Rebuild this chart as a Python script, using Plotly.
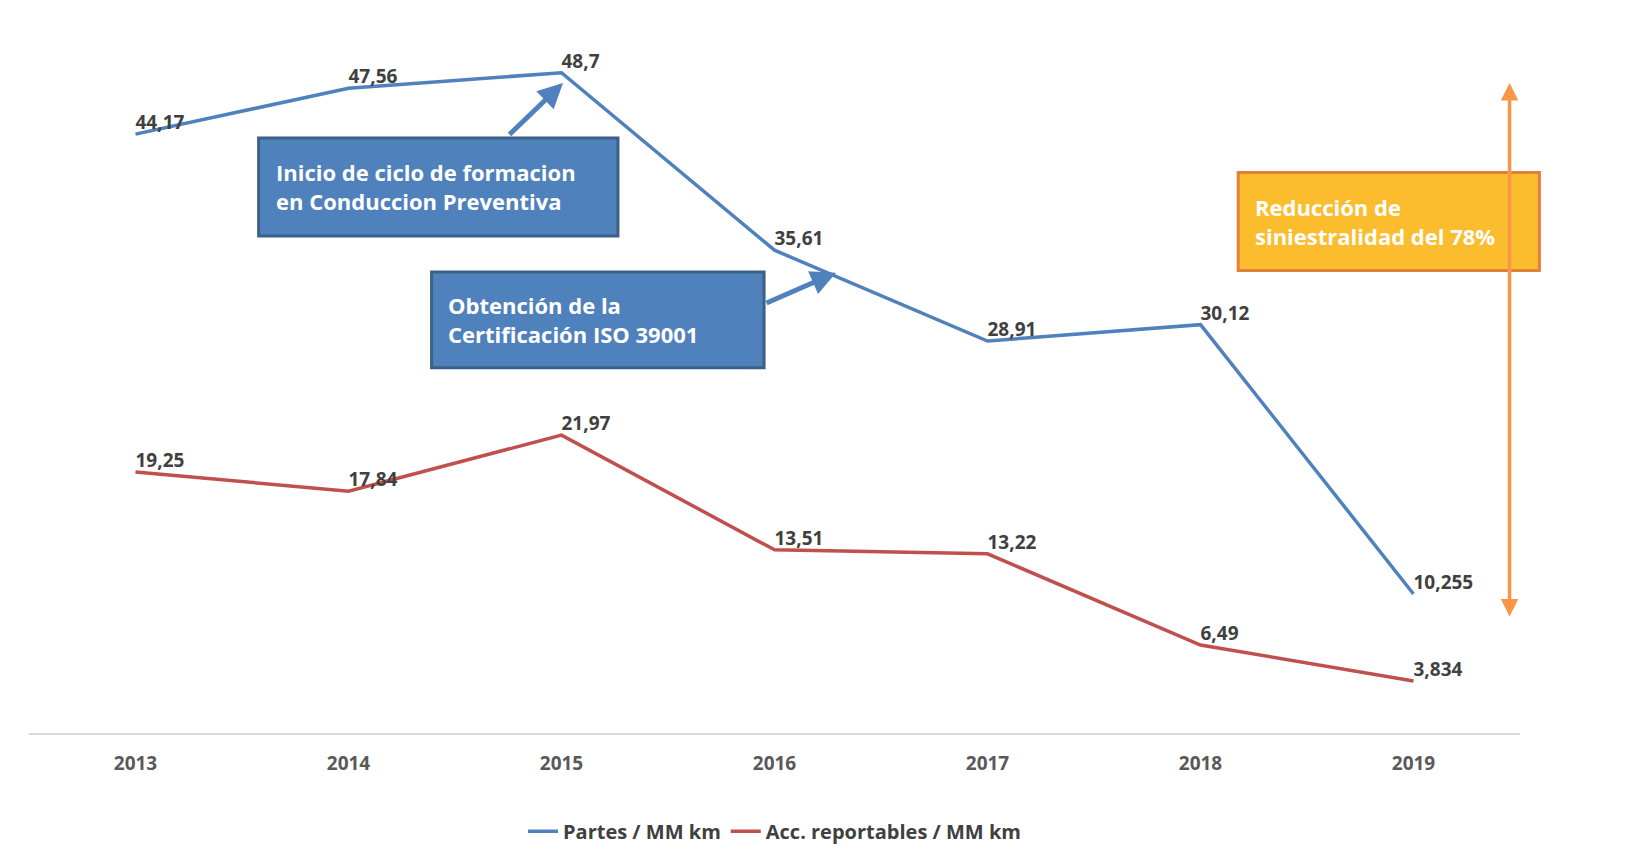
import plotly.graph_objects as go

years = ["2013", "2014", "2015", "2016", "2017", "2018", "2019"]
partes = [44.17, 47.56, 48.7, 35.61, 28.91, 30.12, 10.255]
acc = [19.25, 17.84, 21.97, 13.51, 13.22, 6.49, 3.834]
partes_lbl = ["44,17", "47,56", "48,7", "35,61", "28,91", "30,12", "10,255"]
acc_lbl = ["19,25", "17,84", "21,97", "13,51", "13,22", "6,49", "3,834"]

FONT = "Open Sans"
lbl_font = dict(family=FONT, size=19, color="#404040")

fig = go.Figure()
fig.add_trace(go.Scatter(x=years, y=partes, mode="lines+text", name="<b>Partes / MM km</b>",
                         line=dict(color="#4f81bd", width=3.5),
                         text=partes_lbl, textposition="top right", textfont=lbl_font,
                         texttemplate="<b>%{text}</b>", cliponaxis=False))
fig.add_trace(go.Scatter(x=years, y=acc, mode="lines+text", name="<b>Acc. reportables / MM km</b>",
                         line=dict(color="#c0504d", width=3.5),
                         text=acc_lbl, textposition="top right", textfont=lbl_font,
                         texttemplate="<b>%{text}</b>", cliponaxis=False))

boxes = [
    (0.154, 0.395, 0.705, 0.844, "#4f81bd", "#3b6189",
     "Inicio de ciclo de formacion<br>en Conduccion Preventiva"),
    (0.270, 0.493, 0.518, 0.654, "#4f81bd", "#3b6189",
     "Obtención de la<br>Certificación ISO 39001"),
    (0.811, 1.013, 0.656, 0.795, "#fbbd2e", "#e0803a",
     "Reducción de<br>siniestralidad del 78%"),
]
shapes = []
annotations = []
for x0, x1, y0, y1, fill, border, txt in boxes:
    shapes.append(dict(type="rect", xref="paper", yref="paper", x0=x0, x1=x1, y0=y0, y1=y1,
                       fillcolor=fill, line=dict(color=border, width=3), layer="above"))
    annotations.append(dict(xref="paper", yref="paper", x=x0 + 0.01, y=(y0 + y1) / 2,
                            xanchor="left", yanchor="middle", align="left", showarrow=False,
                            text="<b>" + txt + "</b>",
                            font=dict(family=FONT, size=22, color="white")))

# flechas
annotations.append(dict(xref="paper", yref="paper",
                        x=(555 - 21) / 1491, y=(726 - 75) / 706, ax=-55, ay=53,
                        text="", showarrow=True, arrowhead=2, arrowsize=1, arrowwidth=5,
                        arrowcolor="#4f81bd"))
annotations.append(dict(xref="paper", yref="paper",
                        x=(828 - 21) / 1491, y=(726 - 265) / 706, ax=-71, ay=31,
                        text="", showarrow=True, arrowhead=2, arrowsize=1, arrowwidth=5,
                        arrowcolor="#4f81bd"))
annotations.append(dict(xref="paper", yref="paper",
                        x=0.993, y=(726 - 75) / 706, ax=0, ay=535,
                        text="", showarrow=True, arrowhead=2, arrowside="end+start",
                        arrowsize=1, arrowwidth=3.5, arrowcolor="#f79646"))

fig.update_layout(
    width=1634, height=854, plot_bgcolor="white", paper_bgcolor="white",
    margin=dict(l=21, r=122, t=20, b=128),
    font=dict(family=FONT),
    shapes=shapes, annotations=annotations,
    legend=dict(orientation="h", x=0.5, xanchor="center", y=-0.11, yanchor="top",
                font=dict(family=FONT, size=20, color="#404040")),
    xaxis=dict(type="category", range=[-0.5, 6.5], showgrid=False, showline=True,
               linecolor="#d9d9d9", linewidth=2, ticks="",
               tickprefix="<b>", ticksuffix="</b>",
               tickfont=dict(family=FONT, size=19, color="#595959"), ticklabelstandoff=12),
    yaxis=dict(range=[0, 52], visible=False),
)
fig.write_html("out.html")
